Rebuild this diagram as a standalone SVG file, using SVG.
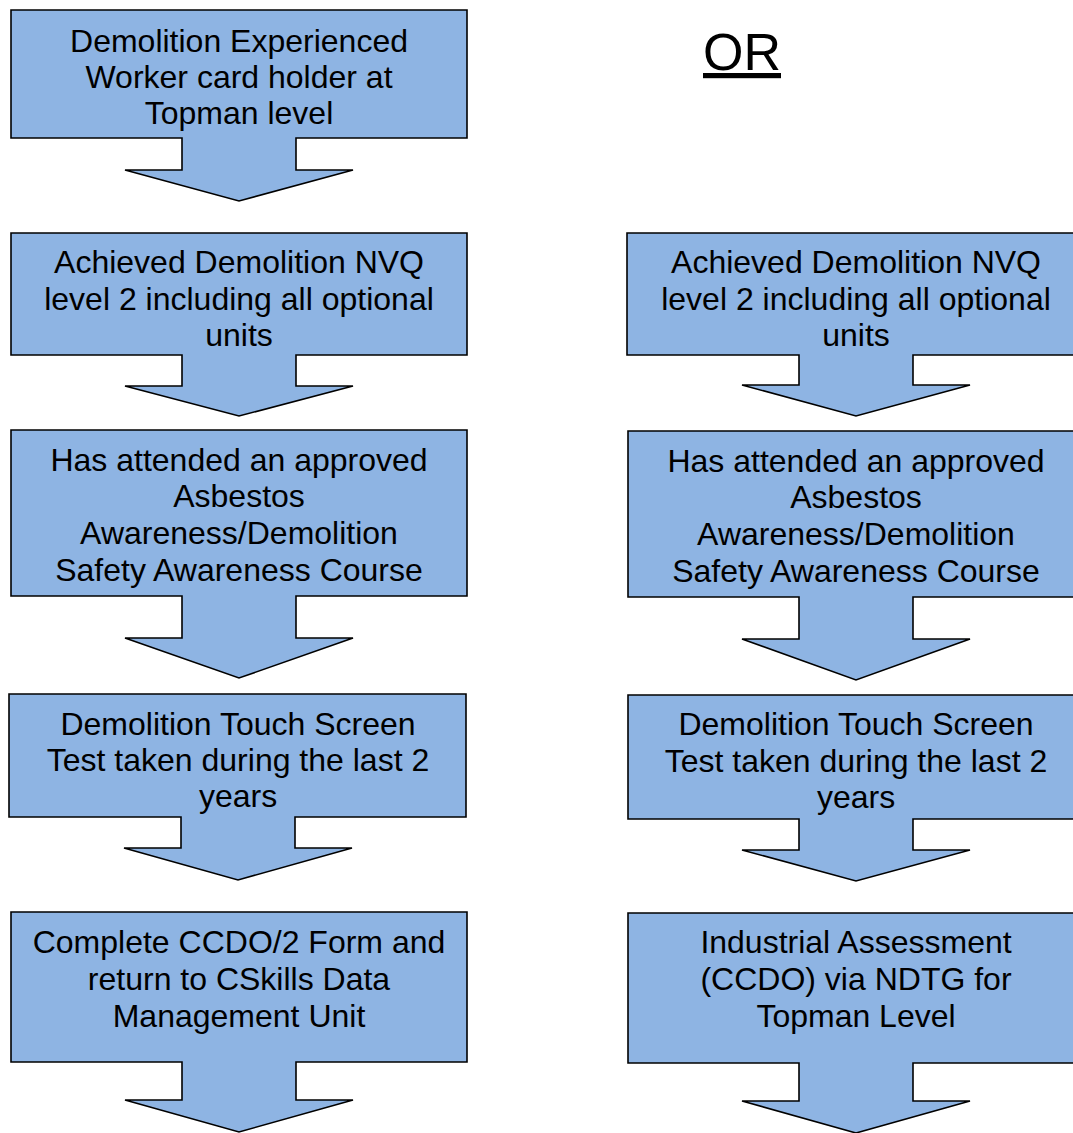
<svg xmlns="http://www.w3.org/2000/svg" width="1073" height="1133" viewBox="0 0 1073 1133">
<style>
.shape{fill:#8EB4E3;stroke:#000;stroke-width:1.6;stroke-linejoin:miter}
.t{font-family:"Liberation Sans",Arial,sans-serif;font-size:32px;fill:#000;text-anchor:middle}
.or{font-family:"Liberation Sans",Arial,sans-serif;font-size:52px;fill:#000;text-decoration:underline}
</style>
<rect width="1073" height="1133" fill="#fff"/>
<text class="or" x="703" y="70">OR</text>
<g id="connectors"></g>
<g id="L1">
<path class="shape" d="M11 10 H467 V138 H296 V170 H353 L239 201 L125 170 H182 V138 H11 Z"/>
<text class="t" x="239" y="52">Demolition Experienced</text>
<text class="t" x="239" y="88">Worker card holder at</text>
<text class="t" x="239" y="124">Topman level</text>
</g>
<g id="L2">
<path class="shape" d="M11 233 H467 V355 H296 V386 H353 L239 416 L125 386 H182 V355 H11 Z"/>
<text class="t" x="239" y="273">Achieved Demolition NVQ</text>
<text class="t" x="239" y="310">level 2 including all optional</text>
<text class="t" x="239" y="346">units</text>
</g>
<g id="L3">
<path class="shape" d="M11 430 H467 V596 H296 V638 H353 L239 678 L125 638 H182 V596 H11 Z"/>
<text class="t" x="239" y="471">Has attended an approved</text>
<text class="t" x="239" y="507">Asbestos</text>
<text class="t" x="239" y="544">Awareness/Demolition</text>
<text class="t" x="239" y="581">Safety Awareness Course</text>
</g>
<g id="L4">
<path class="shape" d="M9 694 H466 V817 H295 V848 H352 L238 880 L124 848 H181 V817 H9 Z"/>
<text class="t" x="238" y="735">Demolition Touch Screen</text>
<text class="t" x="238" y="771">Test taken during the last 2</text>
<text class="t" x="238" y="807">years</text>
</g>
<g id="L5">
<path class="shape" d="M11 912 H467 V1062 H296 V1100 H353 L239 1132 L125 1100 H182 V1062 H11 Z"/>
<text class="t" x="239" y="953">Complete CCDO/2 Form and</text>
<text class="t" x="239" y="990">return to CSkills Data</text>
<text class="t" x="239" y="1027">Management Unit</text>
</g>
<g id="R2">
<path class="shape" d="M627 233 H1085 V355 H913 V385 H970 L856 416 L742 385 H799 V355 H627 Z"/>
<text class="t" x="856" y="273">Achieved Demolition NVQ</text>
<text class="t" x="856" y="310">level 2 including all optional</text>
<text class="t" x="856" y="346">units</text>
</g>
<g id="R3">
<path class="shape" d="M628 431 H1085 V597 H913 V639 H970 L856 680 L742 639 H799 V597 H628 Z"/>
<text class="t" x="856" y="472">Has attended an approved</text>
<text class="t" x="856" y="508">Asbestos</text>
<text class="t" x="856" y="545">Awareness/Demolition</text>
<text class="t" x="856" y="582">Safety Awareness Course</text>
</g>
<g id="R4">
<path class="shape" d="M628 695 H1085 V819 H913 V850 H970 L856 881 L742 850 H799 V819 H628 Z"/>
<text class="t" x="856" y="735">Demolition Touch Screen</text>
<text class="t" x="856" y="772">Test taken during the last 2</text>
<text class="t" x="856" y="808">years</text>
</g>
<g id="R5">
<path class="shape" d="M628 913 H1085 V1063 H913 V1101 H970 L856 1133 L742 1101 H799 V1063 H628 Z"/>
<text class="t" x="856" y="953">Industrial Assessment</text>
<text class="t" x="856" y="990">(CCDO) via NDTG for</text>
<text class="t" x="856" y="1027">Topman Level</text>
</g>
</svg>
